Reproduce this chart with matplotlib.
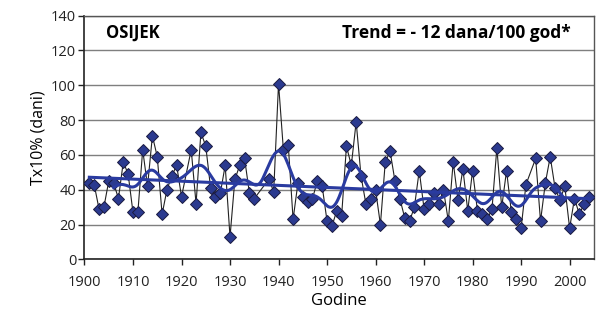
import numpy as np
import matplotlib
matplotlib.use("Agg")
import matplotlib.pyplot as plt

plt.rcParams['font.family'] = ['Open Sans', 'DejaVu Sans']

years = [1901, 1902, 1903, 1904, 1905, 1906, 1907, 1908, 1909, 1910,
         1911, 1912, 1913, 1914, 1915, 1916, 1917, 1918, 1919, 1920,
         1922, 1923, 1924, 1925, 1926, 1927, 1928, 1929, 1930,
         1931, 1932, 1933, 1934, 1935, 1938, 1939, 1940,
         1941, 1942, 1943, 1944, 1945, 1946, 1947, 1948, 1949, 1950,
         1951, 1952, 1953, 1954, 1955, 1956, 1957, 1958, 1959, 1960,
         1961, 1962, 1963, 1964, 1965, 1966, 1967, 1968, 1969, 1970,
         1971, 1972, 1973, 1974, 1975, 1976, 1977, 1978, 1979, 1980,
         1981, 1982, 1983, 1984, 1985, 1986, 1987, 1988, 1989, 1990,
         1991, 1993, 1994, 1995, 1996, 1997, 1998, 1999, 2000,
         2001, 2002, 2003, 2004]
values = [44, 43, 29, 30, 45, 44, 35, 56, 49, 27,
          27, 63, 42, 71, 59, 26, 40, 48, 54, 36,
          63, 32, 73, 65, 41, 36, 38, 54, 13,
          46, 54, 58, 38, 35, 46, 39, 101,
          63, 66, 23, 44, 36, 33, 35, 45, 42, 22,
          19, 28, 25, 65, 54, 79, 48, 32, 35, 40,
          20, 56, 62, 45, 35, 24, 22, 30, 51, 29,
          32, 38, 32, 40, 22, 56, 34, 52, 28, 51,
          28, 26, 23, 29, 64, 30, 51, 27, 23, 18,
          43, 58, 22, 44, 59, 41, 34, 42, 18,
          35, 26, 32, 36]

station = "OSIJEK"
trend_text = "Trend = - 12 dana/100 god*"
y_label = "Tx10% (dani)"
x_label = "Godine"

yrs = np.array(years, dtype=float)
vals = np.array(values, dtype=float)

# linear trend
coef = np.polyfit(yrs, vals, 1)
trend_x = np.array([yrs[0], yrs[-1]])
trend_y = np.polyval(coef, trend_x)

# Gaussian low-pass filter (11-year window)
sigma = 1.8
half = 5
sm_x = np.arange(yrs[0] + half, yrs[-1] - half + 0.01, 0.25)
sm_y = []
for xc in sm_x:
    d = yrs - xc
    m = np.abs(d) <= half + 0.5
    w = np.exp(-0.5 * (d[m] / sigma) ** 2)
    sm_y.append(np.sum(w * vals[m]) / np.sum(w))
sm_y = np.array(sm_y)

fig = plt.figure(figsize=(6, 3.18), dpi=100)
ax = fig.add_axes([0.1408, 0.184, 0.849, 0.767])

ax.set_xlim(1900, 2005)
ax.set_ylim(0, 140)
ax.set_yticks(np.arange(0, 141, 20))
ax.set_xticks(np.arange(1900, 2001, 10))
ax.yaxis.grid(True, color='#7f7f7f', linewidth=1.0)
ax.set_axisbelow(True)

ax.plot(yrs, vals, color='#222222', linewidth=0.8, zorder=3)
ax.plot(yrs, vals, linestyle='none', marker='D', markersize=6,
        markerfacecolor='#2b3a8f', markeredgecolor='#1a1a40',
        markeredgewidth=0.7, zorder=4)
ax.plot(sm_x, sm_y, color='#2a3ba0', linewidth=2.2, zorder=5)
ax.plot(trend_x, trend_y, color='#2a3ba0', linewidth=2.2, zorder=5)

for s in ['top', 'right']:
    ax.spines[s].set_color('#555555')
    ax.spines[s].set_linewidth(1.0)
for s in ['left', 'bottom']:
    ax.spines[s].set_color('#222222')
    ax.spines[s].set_linewidth(1.2)

ax.tick_params(axis='both', direction='out', length=4, width=1,
               labelsize=10.5, colors='#222222', pad=2)
ax.tick_params(axis='x', pad=7)

ax.set_ylabel(y_label, fontsize=11.5, labelpad=3)
ax.set_xlabel(x_label, fontsize=12, labelpad=2)

ax.text(1904.5, 130, station, fontsize=12, fontweight='bold',
        ha='left', va='center')
ax.text(2000.3, 130, trend_text, fontsize=12.5, fontweight='bold',
        ha='right', va='center')

fig.savefig("out.png", dpi=100)
